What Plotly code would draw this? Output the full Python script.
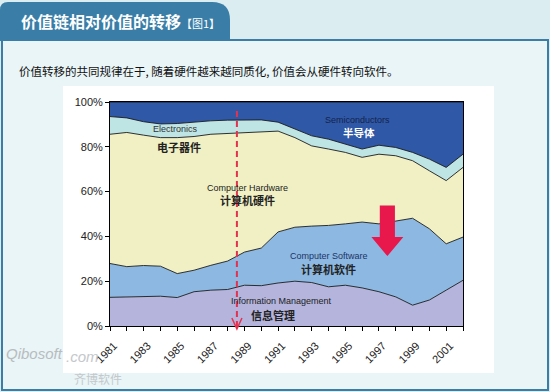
import plotly.graph_objects as go

# ---------------- data ----------------
years = list(range(1981, 2003))
info_mgmt = [12.8, 12.9, 13.0, 13.3, 12.7, 15.3, 16.0, 16.3, 18.2, 18.0, 19.2,
             20.0, 19.4, 17.5, 18.2, 17.0, 15.3, 13.0, 9.3, 11.6, 16.0, 20.4]
software = [15.1, 13.6, 14.0, 13.4, 10.7, 9.6, 11.1, 12.7, 14.8, 16.8, 22.8,
            24.1, 25.2, 27.4, 27.4, 29.4, 30.3, 33.7, 38.8, 31.8, 20.7, 19.3]
hardware = [57.7, 59.9, 58.2, 57.4, 60.7, 59.7, 58.5, 57.0, 53.5, 52.0, 45.0,
            40.0, 35.8, 34.1, 31.9, 28.9, 31.1, 29.3, 25.7, 25.9, 28.2, 31.1]
electronics = [7.9, 6.5, 6.0, 6.1, 6.3, 6.5, 6.0, 5.9, 5.4, 5.2, 4.0,
               3.8, 4.5, 4.4, 3.7, 3.7, 4.0, 3.7, 3.7, 5.2, 5.9, 5.9]
semis = [6.5, 7.1, 8.8, 9.8, 9.6, 8.9, 8.4, 8.1, 8.1, 8.0, 9.0,
         12.1, 15.1, 16.6, 18.8, 21.0, 19.3, 20.3, 22.5, 25.5, 29.2, 23.3]

series_names = ["Information Management", "Computer Software", "Computer Hardware",
                "Electronics", "Semiconductors"]
series_values = [info_mgmt, software, hardware, electronics, semis]
series_colors = ["#b4b4dc", "#8cb8e2", "#f0f0c4", "#bfe4e4", "#2f58a6"]

y_ticks = [0, 20, 40, 60, 80, 100]
y_tick_labels = ["0%", "20%", "40%", "60%", "80%", "100%"]
x_tick_labels = [str(y) if y % 2 == 1 else "" for y in years]

# ---------------- layout helpers ----------------
W, H = 550, 392
L, R, T, B = 110, 87, 102, 66
PW, PH = W - L - R, H - T - B


def px(x):
    return (x - L) / PW


def py(y):
    return (H - B - y) / PH


fig = go.Figure()

for name, vals, col in zip(series_names, series_values, series_colors):
    fig.add_trace(go.Scatter(
        x=years, y=vals, name=name, mode="lines", stackgroup="one",
        line=dict(color="#1a1a1a", width=0.9), fillcolor=col,
        hoverinfo="x+y+name"))

shapes = []
# panel body
shapes.append(dict(type="rect", xref="paper", yref="paper", layer="below",
                   x0=px(2), x1=px(548), y0=py(390), y1=py(40),
                   fillcolor="#e9f5f7", line=dict(color="#3a7ea8", width=2)))
# white chart region
shapes.append(dict(type="rect", xref="paper", yref="paper", layer="below",
                   x0=px(63), x1=px(494), y0=py(373), y1=py(86),
                   fillcolor="#ffffff", line=dict(width=0)))
# title tab
tab = (f"M {px(0)},{py(41)} L {px(0)},{py(10)} Q {px(0)},{py(2)} {px(8)},{py(2)} "
       f"L {px(212)},{py(2)} Q {px(230)},{py(2)} {px(230)},{py(20)} L {px(230)},{py(41)} Z")
shapes.append(dict(type="path", xref="paper", yref="paper", layer="below", path=tab,
                   fillcolor="#3a7ea8", line=dict(width=0)))

# red dashed marker line
xm = 1988.55
shapes.append(dict(type="line", xref="x", yref="paper", x0=xm, x1=xm,
                   y0=py(327), y1=py(110), layer="above",
                   line=dict(color="#e8304e", width=2, dash="6px,4px")))
shapes.append(dict(type="path", xref="x", yref="paper", layer="above",
                   path=f"M {xm-0.3},{py(318)} L {xm},{py(329)} L {xm+0.3},{py(318)}",
                   line=dict(color="#e8304e", width=1.5)))
# big red arrow
xa = 1997.5
arrow = (f"M {xa-0.45},53.8 L {xa+0.45},53.8 L {xa+0.45},39.7 L {xa+0.95},39.7 "
         f"L {xa},31.2 L {xa-0.95},39.7 L {xa-0.45},39.7 Z")
shapes.append(dict(type="path", xref="x", yref="y", layer="above", path=arrow,
                   fillcolor="#e8174c", line=dict(width=0)))

CJK = "Noto Sans CJK SC"
LAT = "Liberation Sans, Arial"

annotations = []


def ann(text, x, y, size, color="#111", xref="x", yref="y", xanchor="center",
        family=LAT, bold=False):
    t = f"<b>{text}</b>" if bold else text
    annotations.append(dict(text=t, x=x, y=y, xref=xref, yref=yref, showarrow=False,
                            xanchor=xanchor, yanchor="middle",
                            font=dict(size=size, color=color, family=family)))


# titles
ann('价值链相对价值的转移<span style="font-size:11px;font-weight:normal">【图1】</span>',
    px(19), py(21), 16, "#ffffff", "paper", "paper", "left", CJK, bold=True)
ann("价值转移的共同规律在于, 随着硬件越来越同质化, 价值会从硬件转向软件。",
    px(17), py(71), 11.5, "#111111", "paper", "paper", "left", CJK)

# in-chart labels
ann("Electronics", 1984.9, 88.0, 9, "#333333")
ann("电子器件", 1985.1, 79.7, 11, "#222222", family=CJK, bold=True)
ann("Computer Hardware", 1989.2, 61.6, 9, "#222222")
ann("计算机硬件", 1989.2, 56.3, 11, "#222222", family=CJK, bold=True)
ann("Semiconductors", 1995.7, 92.0, 9, "#14234f")
ann("半导体", 1995.8, 86.6, 10.5, "#ffffff", family=CJK, bold=True)
ann("Computer Software", 1994.0, 31.3, 9, "#1e3466")
ann("计算机软件", 1994.0, 25.4, 11, "#222222", family=CJK, bold=True)
ann("Information Management", 1991.2, 11.0, 9, "#222222")
ann("信息管理", 1990.7, 4.7, 11, "#222222", family=CJK, bold=True)

# watermark
annotations.append(dict(text="<i>Qibosoft</i>", x=px(4), y=py(353), xref="paper", yref="paper",
                        showarrow=False, xanchor="left", yanchor="middle",
                        font=dict(size=15, color="#b8bcbf", family=LAT)))
annotations.append(dict(text="<i>.com</i>", x=px(64), y=py(356), xref="paper", yref="paper",
                        showarrow=False, xanchor="left", yanchor="middle",
                        font=dict(size=15, color="#c4c8cb", family=LAT)))
annotations.append(dict(text="齐博软件", x=px(72), y=py(378), xref="paper", yref="paper",
                        showarrow=False, xanchor="left", yanchor="middle",
                        font=dict(size=12, color="#c4c8cb", family=CJK)))

fig.update_layout(
    width=W, height=H,
    margin=dict(l=L, r=R, t=T, b=B, pad=0),
    paper_bgcolor="#dcedf2", plot_bgcolor="#ffffff",
    showlegend=False,
    shapes=shapes, annotations=annotations,
    xaxis=dict(range=[1981, 2002], tickmode="array", tickvals=years, ticktext=x_tick_labels,
               tickangle=-45, ticks="outside", ticklen=4, tickcolor="#000",
               ticklabelstandoff=4, ticklabelshift=4,
               showline=True, linecolor="#000", linewidth=1, mirror=True,
               showgrid=False, zeroline=False, automargin=False,
               tickfont=dict(size=11, color="#222", family=LAT)),
    yaxis=dict(range=[0, 100], tickmode="array", tickvals=y_ticks, ticktext=y_tick_labels,
               ticks="outside", ticklen=4, tickcolor="#000",
               showline=True, linecolor="#000", linewidth=1, mirror=True,
               showgrid=False, zeroline=False, automargin=False,
               tickfont=dict(size=11, color="#222", family=LAT)),
)

fig.write_html("out.html", config={"displayModeBar": False},
               post_script="document.body.style.margin='0';document.body.style.overflow='hidden';")
